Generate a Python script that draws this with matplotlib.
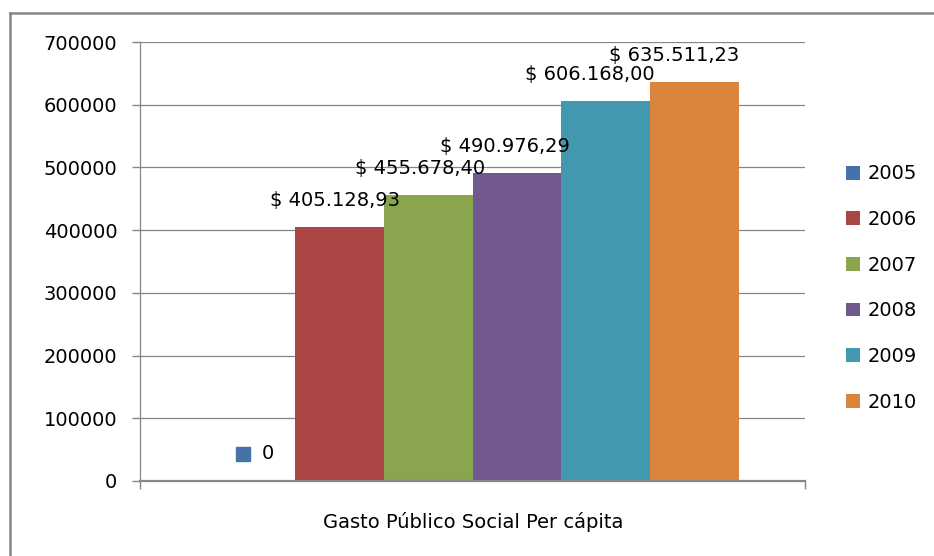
import matplotlib
matplotlib.use("Agg")
import matplotlib.pyplot as plt
from matplotlib.lines import Line2D
from matplotlib.transforms import ScaledTranslation

# data
years = ["2005", "2006", "2007", "2008", "2009", "2010"]
values = [0, 405128.93, 455678.40, 490976.29, 606168.00, 635511.23]
category = "Gasto Público Social Per cápita"
yticks = [0, 100000, 200000, 300000, 400000, 500000, 600000, 700000]
colors = ["#4572A7", "#AA4643", "#89A54E", "#71588F", "#4198AF", "#DB843D"]

GRAY = "#868686"
FS = 14


def pesos(v):
    # spanish style: $ 405.128,93
    if v == 0:
        return "0"
    s = f"{v:,.2f}"
    s = s.replace(",", "X").replace(".", ",").replace("X", ".")
    return "$ " + s


plt.rcParams["font.family"] = ["DejaVu Sans"]

W, H = 934, 556
fig = plt.figure(figsize=(W / 100, H / 100), dpi=100)
ax = fig.add_axes([140 / W, (H - 481) / H, (805 - 140) / W, (481 - 42) / H])

n = len(values)
unit = 1.0 / (n + 1.5)  # excel gap width 150%
for i, (yr, v, c) in enumerate(zip(years, values, colors)):
    x = -0.5 + 0.75 * unit + (i + 0.5) * unit
    ax.bar(x, v, width=unit, color=c, label=yr, zorder=3)
    if v == 0:
        # label with legend key, like excel does
        ax.annotate(pesos(v), (x, v), xytext=(17, 18), textcoords="offset pixels",
                    ha="center", va="bottom", fontsize=FS)
        shift = ScaledTranslation(-8 / 100, 27 / 100, fig.dpi_scale_trans)
        ax.plot([x], [v], marker="s", markersize=10, color=c, linestyle="none",
                transform=ax.transData + shift, clip_on=False, zorder=4)
    else:
        ax.annotate(pesos(v), (x, v), xytext=(-4 * i, 17), textcoords="offset pixels",
                    ha="center", va="bottom", fontsize=FS, zorder=5)

ax.set_xlim(-0.5, 0.5)
ax.set_ylim(0, 700000)
ax.set_yticks(yticks)
ax.set_yticklabels([str(t) for t in yticks], fontsize=FS)
ax.set_xticks([-0.5, 0.5])
ax.set_xticklabels(["", ""])
ax.tick_params(axis="both", direction="out", length=5.8, width=1.0, color=GRAY)
ax.tick_params(axis="y", pad=10.5)
ax.yaxis.grid(True, color=GRAY, linewidth=0.9, zorder=0)
ax.set_axisbelow(True)

for side in ["top", "right"]:
    ax.spines[side].set_visible(False)
ax.spines["left"].set_color(GRAY)
ax.spines["left"].set_linewidth(0.9)
ax.spines["bottom"].set_color(GRAY)
ax.spines["bottom"].set_linewidth(1.6)
ax.spines["bottom"].set_zorder(4)

fig.text(473 / W, 1 - 522 / H, category, ha="center", va="center", fontsize=FS)

fig.legend(loc="center left", bbox_to_anchor=(846 / W, 1 - 288 / H),
           frameon=False, fontsize=FS, borderpad=0, borderaxespad=0,
           handlelength=0.72, handleheight=0.72, handletextpad=0.4,
           labelspacing=1.37)

# outer chart border (cut off at right and bottom)
fig.add_artist(Line2D([10 / W, 10 / W], [1 - 13 / H, 0], color=GRAY, lw=1.8,
                      transform=fig.transFigure))
fig.add_artist(Line2D([10 / W, 1], [1 - 13 / H, 1 - 13 / H], color=GRAY, lw=1.8,
                      transform=fig.transFigure))

fig.savefig("out.png", dpi=100, facecolor="white")
